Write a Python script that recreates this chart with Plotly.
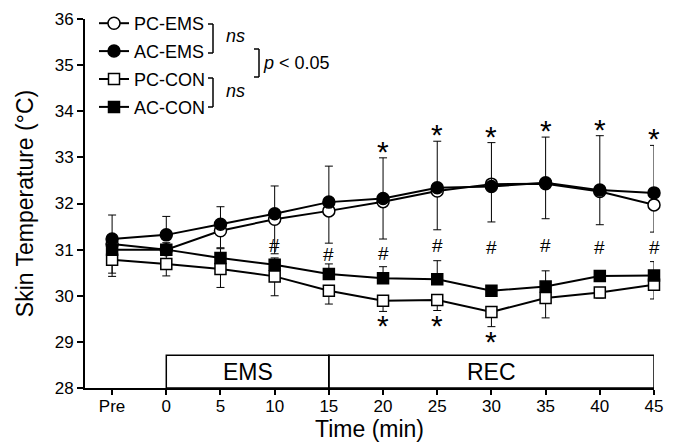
import plotly.graph_objects as go

# ---- data ----
time_labels = ["Pre", "0", "5", "10", "15", "20", "25", "30", "35", "40", "45"]
time_pos = [-5, 0, 5, 10, 15, 20, 25, 30, 35, 40, 45]

pc_ems = [31.12, 31.00, 31.41, 31.66, 31.84, 32.04, 32.27, 32.42, 32.43, 32.26, 31.97]
ac_ems = [31.23, 31.32, 31.55, 31.78, 32.03, 32.11, 32.34, 32.37, 32.45, 32.29, 32.23]
pc_con = [30.78, 30.69, 30.58, 30.42, 30.11, 29.89, 29.91, 29.65, 29.95, 30.07, 30.24]
ac_con = [31.00, 31.00, 30.82, 30.67, 30.47, 30.38, 30.36, 30.11, 30.20, 30.43, 30.44]

ac_ems_sd_up = [0.52, 0.40, 0.38, 0.60, 0.78, 0.88, 1.01, 0.95, 0.99, 1.18, 1.03]
pc_ems_sd_dn = [0.63, 0.20, 0.37, 0.75, 0.70, 0.81, 0.84, 0.82, 0.76, 0.72, 0.59]
ac_con_sd_up = [0.15, 0.15, 0.20, 0.15, 0.22, 0.25, 0.40, 0.10, 0.34, 0.10, 0.30]
pc_con_sd_dn = [0.36, 0.26, 0.40, 0.42, 0.29, 0.23, 0.23, 0.32, 0.43, 0.12, 0.31]

# significance marks
star_top_idx = [5, 6, 7, 8, 9, 10]        # EMS vs baseline
star_bot_idx = [5, 6, 7]                  # PC-CON vs baseline
hash_idx = [3, 4, 5, 6, 7, 8, 9, 10]      # EMS vs CON
hash_y = [31.08, 30.89, 30.92, 31.10, 31.05, 31.10, 31.05, 31.05]

phases = [("EMS", 0, 15), ("REC", 15, 45)]
phase_top = 28.71

FONT = "Liberation Sans, Arial, sans-serif"

fig = go.Figure()

def add_series(name, y, sym, fill, up=None, dn=None):
    err = dict(type="data", symmetric=False, color="black", thickness=1, width=4)
    if up is not None:
        err["array"] = up
        err["arrayminus"] = [0] * len(up)
    else:
        err["array"] = [0] * len(dn)
        err["arrayminus"] = dn
    fig.add_trace(go.Scatter(
        x=time_pos, y=y, name=name, mode="lines+markers",
        line=dict(color="black", width=2),
        marker=dict(symbol=sym, size=12 if "circle" in sym else 11, color=fill,
                    line=dict(color="black", width=1.5)),
        error_y=err, cliponaxis=False, legendgroup=name,
    ))

add_series("PC-EMS", pc_ems, "circle", "white", dn=pc_ems_sd_dn)
add_series("AC-EMS", ac_ems, "circle", "black", up=ac_ems_sd_up)
add_series("PC-CON", pc_con, "square", "white", dn=pc_con_sd_dn)
add_series("AC-CON", ac_con, "square", "black", up=ac_con_sd_up)

ann = []
for i in star_top_idx:
    ann.append(dict(x=time_pos[i], y=ac_ems[i] + ac_ems_sd_up[i], xref="x", yref="y",
                    text="*", showarrow=False, yanchor="bottom", yshift=-12,
                    font=dict(size=30, family=FONT, color="black")))
for i in star_bot_idx:
    ann.append(dict(x=time_pos[i], y=pc_con[i] - pc_con_sd_dn[i], xref="x", yref="y",
                    text="*", showarrow=False, yanchor="top", yshift=4,
                    font=dict(size=30, family=FONT, color="black")))
for i, hy in zip(hash_idx, hash_y):
    ann.append(dict(x=time_pos[i], y=hy, xref="x", yref="y", text="#",
                    showarrow=False, yanchor="middle",
                    font=dict(size=19, family=FONT, color="black")))

shapes = []
for label, a, b in phases:
    shapes.append(dict(type="rect", xref="x", yref="y", x0=a, x1=b, y0=28, y1=phase_top,
                       line=dict(color="black", width=1.5), layer="above"))
    ann.append(dict(x=(a + b) / 2, y=(28 + phase_top) / 2, xref="x", yref="y", text=label,
                    showarrow=False, font=dict(size=23, family=FONT, color="black")))

# brackets (pixel -> paper helpers)
L, T, W, H = 85, 19, 569, 369
def PX(p): return (p - L) / W
def PY(p): return (T + H - p) / H

def bracket(x, y0, y1, tick=5):
    for yy in (y0, y1):
        shapes.append(dict(type="line", xref="paper", yref="paper",
                           x0=PX(x - tick), x1=PX(x), y0=PY(yy), y1=PY(yy),
                           line=dict(color="black", width=1.5)))
    shapes.append(dict(type="line", xref="paper", yref="paper",
                       x0=PX(x), x1=PX(x), y0=PY(y0), y1=PY(y1),
                       line=dict(color="black", width=1.5)))

bracket(213, 24, 53)
bracket(213, 78, 107)
bracket(259, 49, 77)
ann.append(dict(x=PX(224), y=PY(36), xref="paper", yref="paper", text="<i>ns</i>",
                showarrow=False, xanchor="left", yanchor="middle",
                font=dict(size=18, family=FONT, color="black")))
ann.append(dict(x=PX(224), y=PY(91), xref="paper", yref="paper", text="<i>ns</i>",
                showarrow=False, xanchor="left", yanchor="middle",
                font=dict(size=18, family=FONT, color="black")))
ann.append(dict(x=PX(261), y=PY(63), xref="paper", yref="paper", text="<i>p</i> < 0.05",
                showarrow=False, xanchor="left", yanchor="middle",
                font=dict(size=18, family=FONT, color="black")))

fig.update_layout(
    width=683, height=443,
    margin=dict(l=L, r=683 - L - W, t=T, b=443 - T - H, autoexpand=False),
    paper_bgcolor="white", plot_bgcolor="white",
    font=dict(family=FONT, color="black"),
    showlegend=True,
    legend=dict(x=PX(94), y=PY(5), xanchor="left", yanchor="top",
                font=dict(size=18, family=FONT, color="black"),
                bgcolor="rgba(0,0,0,0)", tracegroupgap=1.5, traceorder="grouped",
                itemwidth=30),
    annotations=ann, shapes=shapes,
    xaxis=dict(range=[-7.5, 45], tickvals=time_pos, ticktext=time_labels,
               showline=True, linecolor="black", linewidth=2, showgrid=False, zeroline=False,
               ticks="outside", ticklen=5, tickwidth=1.5, tickcolor="black",
               ticklabelstandoff=-3,
               tickfont=dict(size=17, family=FONT, color="black"),
               title=dict(text="Time (min)", font=dict(size=23, family=FONT, color="black"),
                          standoff=0)),
    yaxis=dict(range=[28, 36], dtick=1,
               showline=True, linecolor="black", linewidth=2, showgrid=False, zeroline=False,
               ticks="outside", ticklen=6, tickwidth=1.5, tickcolor="black",
               tickfont=dict(size=17, family=FONT, color="black"),
               title=dict(text="Skin Temperature (°C)", font=dict(size=23, family=FONT, color="black"),
                          standoff=15)),
)

fig.write_html("out.html", config={"displayModeBar": False},
               post_script="document.body.style.margin='0';")
